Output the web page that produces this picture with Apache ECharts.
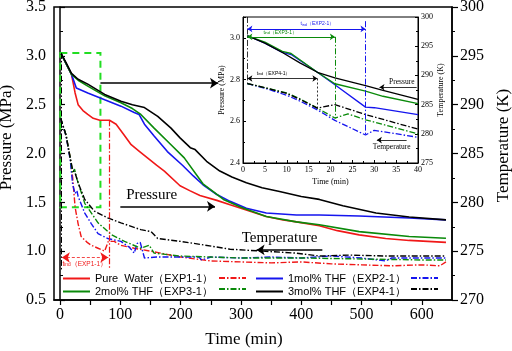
<!DOCTYPE html>
<html>
<head>
<meta charset="utf-8">
<script src="https://cdn.jsdelivr.net/npm/echarts@6/dist/echarts.min.js"></script>
<style>
html, body { margin: 0; padding: 0; background: #fff; }
#chart { width: 512px; height: 351px; }
</style>
</head>
<body>
<div id="chart"></div>
<script>
// main chart, pressure [time min, MPa]
const pureWaterP = [[2,3.02],[10,2.92],[19,2.81],[25,2.62],[30,2.5],[38,2.44],[46,2.4],[55,2.36],[66,2.34],[82,2.34],[93,2.3],[105,2.2],[118,2.09],[132,2.02],[145,1.955],[160,1.88],[173,1.82],[199,1.67],[215,1.62],[232,1.57],[260,1.52],[282,1.475],[310,1.42],[342,1.355],[370,1.32],[392,1.3],[430,1.26],[460,1.21],[496,1.167],[540,1.13],[579,1.11],[640,1.09]]
const thf1P = [[2,3.02],[10,2.92],[19,2.81],[27,2.67],[46,2.62],[74,2.55],[101,2.485],[123,2.42],[131,2.4],[140,2.3],[156,2.18],[178,2.02],[203,1.88],[221,1.77],[237,1.68],[260,1.58],[282,1.51],[309,1.44],[342,1.39],[392,1.37],[430,1.37],[496,1.36],[579,1.34],[640,1.32]]
const thf2P = [[2,3.02],[10,2.92],[19,2.81],[30,2.75],[46,2.69],[74,2.59],[101,2.52],[120,2.46],[134,2.4],[156,2.26],[184,2.09],[206,1.955],[237,1.69],[271,1.53],[300,1.45],[342,1.355],[392,1.3],[430,1.27],[496,1.2],[579,1.15],[640,1.133]]
const thf3P = [[2,3.02],[10,2.93],[19,2.82],[30,2.76],[46,2.71],[74,2.605],[101,2.535],[120,2.5],[140,2.47],[162,2.38],[184,2.26],[199,2.16],[216,2.06],[224,2.04],[243,1.92],[265,1.82],[285,1.76],[309,1.7],[335,1.65],[364,1.61],[400,1.56],[430,1.53],[469,1.465],[524,1.39],[579,1.35],[640,1.32]]

// main chart, temperature [time min, K]
const pureWaterT = [[1,288.6],[10,286.8],[17,284.5],[21,282.5],[25,279.5],[30,277.8],[35,276.5],[45,275.9],[52,275.6],[63,275.3],[74,275.0],[77,275.1],[80,276.0],[90,276.0],[101,275.6],[123,275.3],[150,275.0],[200,274.4],[250,274.0],[300,273.9],[350,273.8],[400,273.9],[450,273.7],[500,273.6],[550,273.5],[600,273.6],[630,273.5],[640,273.9]]
const thf1T = [[1,288.6],[10,286.8],[17,284.3],[21,281.8],[25,280.9],[28,281.2],[30,280.6],[41,278.9],[52,277.8],[63,276.8],[79,276.3],[101,276.0],[115,275.4],[123,274.8],[128,275.8],[133,275.9],[140,274.3],[160,274.4],[200,274.4],[230,274.4],[235,274.1],[250,274.4],[300,274.3],[350,274.4],[400,274.3],[450,274.5],[500,274.3],[540,274.0],[550,274.3],[600,274.3],[640,274.3]]
const thf2T = [[1,288.6],[10,286.9],[17,284.5],[21,283.0],[24,283.4],[28,282.4],[41,279.9],[63,277.9],[85,276.7],[107,276.0],[134,275.3],[148,275.6],[156,274.8],[200,274.5],[250,274.4],[300,274.3],[400,274.3],[500,274.2],[600,274.1],[640,274.1]]
const thf3T = [[1,288.6],[10,286.9],[17,284.5],[21,283.3],[25,283.0],[30,282.0],[41,280.3],[57,279.1],[79,278.4],[101,277.9],[134,277.2],[151,277.0],[162,276.3],[200,276.0],[232,275.7],[282,275.2],[337,275.0],[392,274.8],[430,274.5],[480,274.6],[540,274.5],[600,274.5],[640,274.5]]

// inset, first 40 min
const insetThf1P = [[1,3.01],[5,2.975],[9,2.93],[11,2.92],[17,2.835],[21,2.775],[28,2.668],[30,2.665],[40,2.632]]
const insetThf2P = [[1,3.01],[5,2.98],[9,2.935],[11,2.925],[17,2.835],[21,2.78],[28,2.745],[32,2.72],[40,2.685]]
const insetThf3P = [[1,3.01],[5,2.975],[9,2.93],[13,2.88],[17,2.835],[21,2.808],[28,2.771],[32,2.748],[40,2.705]]
const insetThf1T = [[1,288.6],[5,287.8],[10,286.6],[13,285.6],[17,284.1],[21,282.3],[28,279.8],[30,280.6],[40,279.4]]
const insetThf2T = [[1,288.6],[5,287.9],[10,287.0],[13,286.0],[17,284.4],[21,282.7],[24,283.4],[28,282.4],[40,280.0]]
const insetThf3T = [[1,288.6],[5,287.9],[10,286.9],[13,285.9],[17,284.4],[21,285.0],[28,283.3],[40,280.8]]

const xLabels = [0, 100, 200, 300, 400, 500, 600]
const xTicks = [0, 50, 100, 150, 200, 250, 300, 350, 400, 450, 500, 550, 600]
const names = ['Pure  Water（EXP1-1）', '1mol% THF（EXP2-1）', '2mol% THF（EXP3-1）', '3mol% THF（EXP4-1）']

const RED = '#f01818'
const BLUE = '#1515ee'
const GREEN = '#0a8a0a'
const BLACK = '#000000'
const SERIF = 'Liberation Serif'
const DASH_DOT = [6, 2, 1.5, 2]

const line = (name, data, color, dashed, xi, yi, width) => ({
  name,
  type: 'line',
  data,
  xAxisIndex: xi,
  yAxisIndex: yi,
  symbol: 'none',
  silent: true,
  itemStyle: { color },
  lineStyle: { color, width, type: dashed ? DASH_DOT : 'solid' }
})

const seg = (a, b, color, type, width, s0, s1) => {
  const ls = { color, type, width }
  return [{ coord: a, symbol: s0, lineStyle: ls }, { coord: b, symbol: s1, lineStyle: ls }]
}

const text = (coord, formatter, style) => ({
  coord,
  symbolSize: 0,
  label: Object.assign({ show: true, position: 'inside', formatter, color: '#000' }, style)
})

const tInd = (exp, color, size) => ({
  formatter: '{a|t}{b|ind}{a|（' + exp + '）}',
  rich: {
    a: { color, fontSize: size, fontFamily: 'Liberation Sans' },
    b: { color, fontSize: size * 0.75, fontFamily: 'Liberation Sans', verticalAlign: 'bottom' }
  }
})

const mainSeries = [
  line(names[0], pureWaterP, RED, false, 0, 0, 1.6),
  line(names[1], thf1P, BLUE, false, 0, 0, 1.6),
  line(names[2], thf2P, GREEN, false, 0, 0, 1.6),
  line(names[3], thf3P, BLACK, false, 0, 0, 1.6),
  line('T1', pureWaterT, RED, true, 0, 1, 1.4),
  line('T2', thf1T, BLUE, true, 0, 1, 1.4),
  line('T3', thf2T, GREEN, true, 0, 1, 1.4),
  line('T4', thf3T, BLACK, true, 0, 1, 1.4)
]

mainSeries[3].markArea = {
  silent: true,
  itemStyle: { color: 'rgba(0,0,0,0)', borderColor: '#22dd22', borderWidth: 2, borderType: [7, 5] },
  data: [[{ coord: [0.5, 3.03] }, { coord: [67, 1.45] }]]
}
mainSeries[3].markLine = {
  silent: true,
  symbolSize: 8,
  label: { show: false },
  data: [
    seg([67, 2.72], [262, 2.72], BLACK, 'solid', 1.5, 'none', 'arrow'),
    seg([100, 1.458], [257, 1.458], BLACK, 'solid', 1.5, 'none', 'arrow'),
    seg([435, 1.013], [326, 1.013], BLACK, 'solid', 1.5, 'none', 'arrow'),
    seg([2, 3.03], [2, 0.81], BLACK, DASH_DOT, 1, 'none', 'none'),
    seg([81, 2.34], [81, 0.81], RED, DASH_DOT, 1.2, 'none', 'none'),
    seg([3, 0.935], [80, 0.935], RED, [3, 2], 0.8, 'arrow', 'arrow')
  ]
}
mainSeries[3].markPoint = {
  silent: true,
  data: [
    text([152, 1.578], 'Pressure', { fontFamily: SERIF, fontSize: 15 }),
    text([364, 1.137], 'Temperature', { fontFamily: SERIF, fontSize: 15 }),
    text([41, 0.87], '', tInd('EXP1-1', RED, 6.5))
  ]
}

const insetSeries = [
  line('i-P2', insetThf1P, BLUE, false, 1, 2, 1.3),
  line('i-P3', insetThf2P, GREEN, false, 1, 2, 1.3),
  line('i-P4', insetThf3P, BLACK, false, 1, 2, 1.3),
  line('i-T2', insetThf1T, BLUE, true, 1, 3, 1.3),
  line('i-T3', insetThf2T, GREEN, true, 1, 3, 1.3),
  line('i-T4', insetThf3T, BLACK, true, 1, 3, 1.3)
]
insetSeries[2].markLine = {
  silent: true,
  symbolSize: 5,
  label: { show: false },
  data: [
    seg([1, 3.1], [1, 2.78], BLACK, DASH_DOT, 0.8, 'none', 'none'),
    seg([1, 2.805], [17, 2.805], BLACK, 'solid', 0.8, 'arrow', 'arrow'),
    seg([17, 2.805], [17, 2.662], BLACK, [2, 2], 0.8, 'none', 'none'),
    seg([1, 3.005], [21, 3.005], GREEN, 'solid', 1, 'arrow', 'arrow'),
    seg([21, 3.005], [21, 2.614], GREEN, DASH_DOT, 1, 'none', 'none'),
    seg([1, 3.043], [28, 3.043], BLUE, 'solid', 1, 'arrow', 'arrow'),
    seg([28, 3.08], [28, 2.533], BLUE, DASH_DOT, 1, 'none', 'none'),
    seg([39.7, 2.763], [31.2, 2.763], BLACK, 'solid', 0.8, 'none', 'arrow'),
    seg([37.4, 2.51], [30.6, 2.51], BLACK, 'solid', 0.8, 'none', 'arrow')
  ]
}
insetSeries[2].markPoint = {
  silent: true,
  data: [
    text([36.3, 2.79], 'Pressure', { fontFamily: SERIF, fontSize: 7.5 }),
    text([34, 2.476], 'Temperature', { fontFamily: SERIF, fontSize: 7.5 }),
    text([17, 3.066], '', tInd('EXP2-1', BLUE, 5)),
    text([8.5, 3.027], '', tInd('EXP3-1', GREEN, 5)),
    text([7, 2.83], '', tInd('EXP4-1', BLACK, 5))
  ]
}

const axisText = { color: '#000', fontFamily: SERIF, fontSize: 16 }
const smallText = { color: '#000', fontFamily: SERIF, fontSize: 8 }
const blackLine = { show: true, lineStyle: { color: '#000', width: 1.5 } }
const thinLine = { show: true, lineStyle: { color: '#000', width: 1 } }

const legendBase = {
  orient: 'vertical',
  top: 273,
  padding: 0,
  itemWidth: 27,
  itemHeight: 10,
  itemGap: 2,
  selectedMode: false,
  itemStyle: { opacity: 0 },
  textStyle: { color: '#000', fontSize: 11, fontFamily: 'Liberation Sans', padding: [0, 0, 0, 0] }
}

const chart = echarts.init(document.getElementById('chart'))
chart.setOption({
  animation: false,
  backgroundColor: '#fff',
  grid: [
    { left: 54, right: 60, top: 7, bottom: 51, show: true, borderColor: '#000', borderWidth: 1.5, outerBoundsMode: 'none' },
    { left: 243, top: 17, width: 175, height: 146, show: true, borderColor: '#000', borderWidth: 1, backgroundColor: '#fff', outerBoundsMode: 'none' }
  ],
  legend: [
    Object.assign({}, legendBase, { left: 62, data: [names[0], names[2]] }),
    Object.assign({}, legendBase, { left: 255, data: [names[1], names[3]] }),
    Object.assign({}, legendBase, { left: 218, data: ['T1', 'T3'], formatter: () => '' }),
    Object.assign({}, legendBase, { left: 410, data: ['T2', 'T4'], formatter: () => '' })
  ],
  xAxis: [
    {
      type: 'value', gridIndex: 0, min: -10, max: 650,
      name: 'Time (min)', nameLocation: 'middle', nameGap: 31,
      nameTextStyle: Object.assign({}, axisText, { fontSize: 17, padding: [0, 18, 0, 0] }),
      axisLine: blackLine,
      axisTick: { show: true, customValues: xTicks, length: 5, lineStyle: { color: '#000', width: 1.2 } },
      axisLabel: Object.assign({ customValues: xLabels, margin: 7 }, axisText),
      splitLine: { show: false }
    },
    {
      type: 'value', gridIndex: 1, min: 0, max: 40, interval: 5,
      name: 'Time (min)', nameLocation: 'middle', nameGap: 15,
      nameTextStyle: smallText,
      axisLine: thinLine,
      axisTick: { inside: true, length: 3, lineStyle: { color: '#000' } },
      minorTick: { show: true, splitNumber: 2, length: 2, lineStyle: { color: '#000' } },
      axisLabel: Object.assign({ margin: 3 }, smallText),
      splitLine: { show: false }
    }
  ],
  yAxis: [
    {
      type: 'value', gridIndex: 0, min: 0.5, max: 3.5, interval: 0.5,
      name: 'Pressure (MPa)', nameLocation: 'middle', nameGap: 37, nameRotate: 90,
      nameTextStyle: Object.assign({}, axisText, { fontSize: 17, padding: [0, 0, 0, 32] }),
      axisLine: blackLine,
      axisTick: { inside: true, length: 5, lineStyle: { color: '#000', width: 1.2 } },
      minorTick: { show: true, splitNumber: 2, length: 3, lineStyle: { color: '#000' } },
      axisLabel: Object.assign({ margin: 8, formatter: v => v.toFixed(1) }, axisText),
      splitLine: { show: false }
    },
    {
      type: 'value', gridIndex: 0, position: 'right', min: 270, max: 300, interval: 5,
      name: 'Temperature (K)', nameLocation: 'middle', nameGap: 38, nameRotate: 90,
      nameTextStyle: Object.assign({}, axisText, { fontSize: 17, padding: [0, 0, 0, 16] }),
      axisLine: blackLine,
      axisTick: { inside: false, length: 6, lineStyle: { color: '#000', width: 1.2 } },
      minorTick: { show: true, splitNumber: 2, length: 3, lineStyle: { color: '#000' } },
      axisLabel: Object.assign({ margin: 8 }, axisText),
      splitLine: { show: false }
    },
    {
      type: 'value', gridIndex: 1, min: 2.4, max: 3.1, interval: 0.2,
      name: 'Pressure (MPa)', nameLocation: 'middle', nameGap: 16, nameRotate: 90,
      nameTextStyle: smallText,
      axisLine: thinLine,
      axisTick: { inside: true, length: 3, lineStyle: { color: '#000' } },
      minorTick: { show: true, splitNumber: 2, length: 2, lineStyle: { color: '#000' } },
      axisLabel: Object.assign({ margin: 3, showMaxLabel: false, formatter: v => v.toFixed(1) }, smallText),
      splitLine: { show: false }
    },
    {
      type: 'value', gridIndex: 1, position: 'right', min: 275, max: 300, interval: 5,
      name: 'Temperature (K)', nameLocation: 'middle', nameGap: 18, nameRotate: 90,
      nameTextStyle: smallText,
      axisLine: thinLine,
      axisTick: { inside: true, length: 3, lineStyle: { color: '#000' } },
      minorTick: { show: true, splitNumber: 2, length: 2, lineStyle: { color: '#000' } },
      axisLabel: Object.assign({ margin: 3 }, smallText),
      splitLine: { show: false }
    }
  ],
  series: [...mainSeries, ...insetSeries]
})
</script>
</body>
</html>
